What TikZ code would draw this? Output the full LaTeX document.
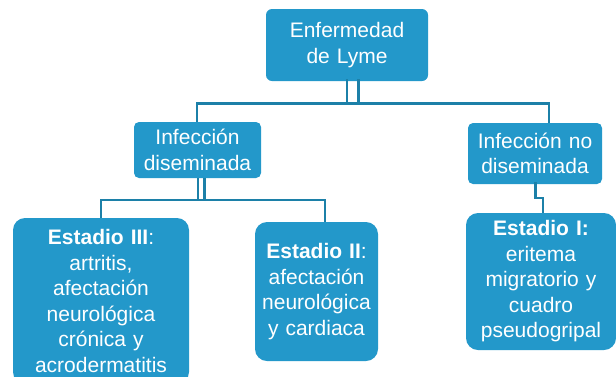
\documentclass[tikz,border=0pt]{standalone}
\usepackage{fontspec}
\setmainfont{Liberation Sans}
\definecolor{boxblue}{HTML}{2398CA}
\definecolor{lineblue}{HTML}{1C80A8}
\begin{document}
\begin{tikzpicture}[x=1pt,y=-1pt,
  box/.style={fill=boxblue,draw=none,text=white,align=center,inner xsep=3pt,inner ysep=0pt,
    font=\fontsize{21}{25.5}\selectfont},
  conn/.style={draw=lineblue,line width=2.5pt}]
\useasboundingbox (0,0) rectangle (616,376);
\clip (0,0) rectangle (616,376);
\node[box,rounded corners=6pt,minimum width=162pt,minimum height=72pt,text width=156pt] (top) at (347,45) {Enfermedad\\ de Lyme};
\node[box,rounded corners=5pt,minimum width=127pt,minimum height=56pt,text width=121pt] (infd) at (197.5,150) {Infección\\diseminada};
\node[box,rounded corners=5pt,minimum width=134pt,minimum height=61pt,text width=128pt] (infnd) at (535,153.5) {Infección no\\diseminada};
\node[box,rounded corners=12pt,minimum width=176pt,minimum height=166pt,text width=170pt] (e3) at (101,301) {\textbf{Estadio III}:\\artritis,\\afectación\\neurológica\\crónica y\\acrodermatitis};
\node[box,rounded corners=12pt,minimum width=123pt,minimum height=139pt,text width=117pt] (e2) at (316.5,291.5) {\textbf{Estadio II}:\\afectación\\neurológica\\y cardiaca};
\node[box,rounded corners=12pt,minimum width=150pt,minimum height=137pt,text width=144pt] (e1) at (541,281.5) {\textbf{Estadio I:}\\eritema\\migratorio y\\cuadro\\pseudogripal};
% level 1 connectors
\coordinate (h1) at (197,103.5);
\coordinate (h2) at (549,103.5);
\draw[conn] ([yshift=2pt]top.south) -- (top.south |- h1);
\draw[conn] ([xshift=11.5pt,yshift=2pt]top.south) -- ([xshift=11.5pt]top.south |- h1);
\draw[conn] (infd.north -| h1) -- (h1) -- (h2) -- (infnd.north -| h2);
% level 2 connectors
\coordinate (g1) at (101,200);
\coordinate (g2) at (325,200);
\draw[conn] ([xshift=0.5pt]infd.south) -- ([xshift=0.5pt]infd.south |- g1);
\draw[conn] ([xshift=7pt]infd.south) -- ([xshift=7pt]infd.south |- g1);
\draw[conn] (e3.north -| g1) -- (g1) -- (g2) -- (e2.north -| g2);
% right connector
\coordinate (k1) at (535.5,198);
\coordinate (k2) at (543,198);
\draw[conn] ([yshift=2pt]infnd.south -| k1) -- (k1) -- (k2) -- (e1.north -| k2);
\end{tikzpicture}
\end{document}
